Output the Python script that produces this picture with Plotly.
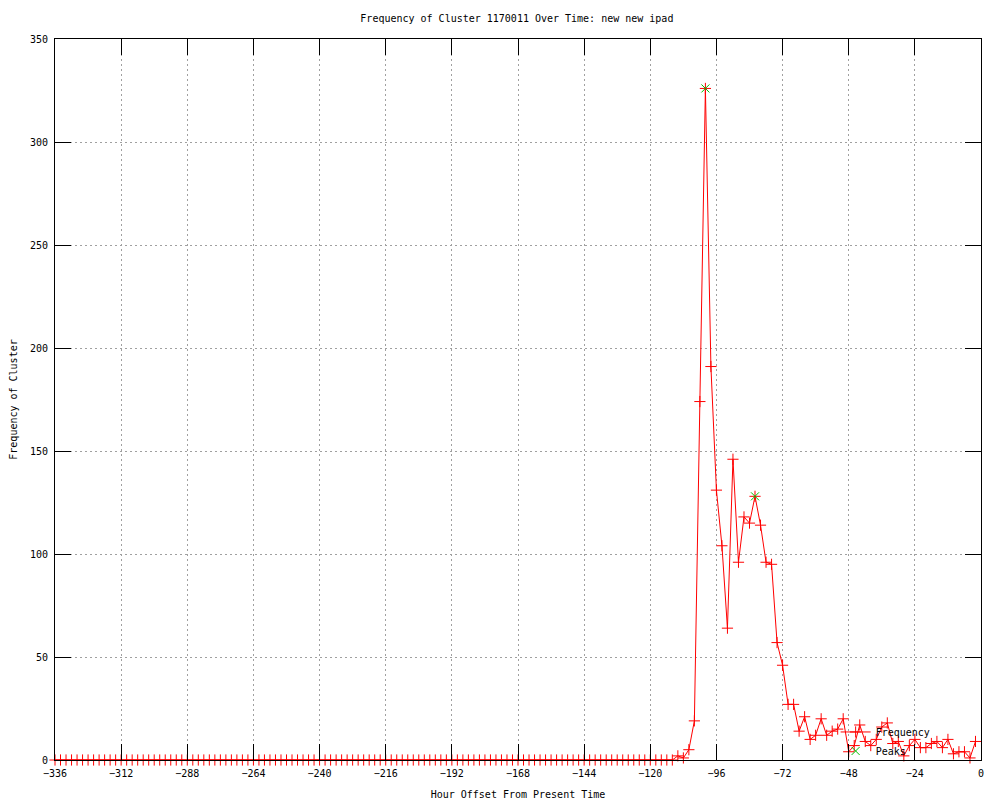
import plotly.graph_objects as go

# Hour offsets (every 2 hours, -336 .. -2)
hours = list(range(-336, 0, 2))

# Frequency values
freq_zero_part = [0] * 113  # -336 .. -112
freq_active_part = [
    2, 1, 5, 19, 174, 326, 191, 131, 104, 64,      # -110 .. -92
    146, 96, 118, 115, 128, 114, 96, 95, 57, 46,   # -90 .. -72
    27, 27, 14, 21, 10, 12, 20, 12, 14, 15,        # -70 .. -52
    20, 4, 7, 17, 9, 7, 10, 16, 18, 8,             # -50 .. -32
    9, 2, 7, 10, 6, 6, 8, 9, 6, 10,                # -30 .. -12
    3, 4, 4, 1, 9,                                 # -10 .. -2
]
frequency = freq_zero_part + freq_active_part

peak_hours = [-100, -82]
peak_values = [326, 128]

x_ticks = list(range(-336, 1, 24))
y_ticks = list(range(0, 351, 50))

title_text = "Frequency of Cluster 1170011 Over Time: new new ipad"
x_title = "Hour Offset From Present Time"
y_title = "Frequency of Cluster"

FONT = "DejaVu Sans Mono"

fig = go.Figure()
fig.add_trace(go.Scatter(
    x=hours, y=frequency, mode="lines+markers", name="Frequency",
    line=dict(color="#ff0000", width=1),
    marker=dict(symbol="cross-thin", size=8, line=dict(color="#ff0000", width=1), color="#ff0000"),
    cliponaxis=False,
))
fig.add_trace(go.Scatter(
    x=peak_hours, y=peak_values, mode="markers", name="Peaks",
    marker=dict(symbol="x-thin", size=8, line=dict(color="#00c000", width=1), color="#00c000"),
    cliponaxis=False,
))

axis_common = dict(
    showline=True, linecolor="black", linewidth=1, mirror="ticks",
    ticks="inside", ticklen=16, tickwidth=1, tickcolor="black",
    showgrid=True, gridcolor="#a0a0a0", gridwidth=1, griddash="2px,3px",
    zeroline=False, automargin=False, ticklabelstandoff=4,
    tickfont=dict(family=FONT, size=10, color="black"),
)

# the page body has an 8px margin; the figure is sized so that it fills the window
fig.update_layout(
    width=992, height=792,
    paper_bgcolor="white", plot_bgcolor="white",
    margin=dict(l=47, r=19, t=31, b=40),
    title=dict(text=title_text, x=0.513, xanchor="center", y=0.987, yanchor="middle",
               font=dict(family=FONT, size=10, color="black")),
    xaxis=dict(range=[-336, 0], tickvals=x_ticks,
               title=dict(text=x_title, font=dict(family=FONT, size=10, color="black"), standoff=14),
               **axis_common),
    yaxis=dict(range=[0, 350], tickvals=y_ticks,
               title=dict(text=y_title, font=dict(family=FONT, size=10, color="black"), standoff=14),
               **axis_common),
    legend=dict(x=0.951, xanchor="right", y=0.059, yanchor="top",
                bgcolor="rgba(0,0,0,0)", font=dict(family=FONT, size=10, color="black"),
                tracegroupgap=0, itemwidth=30),
    showlegend=True,
)

fig.write_html("out.html")
